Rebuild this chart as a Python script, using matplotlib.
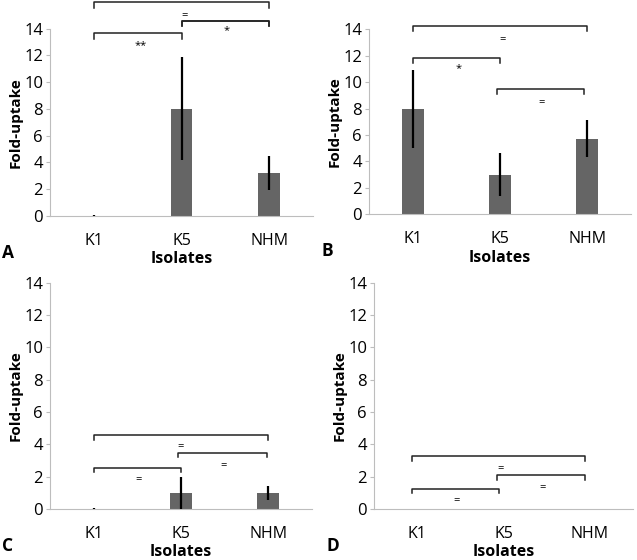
import numpy as np
import matplotlib
matplotlib.use("Agg")
import matplotlib.pyplot as plt
from matplotlib import rcParams

rcParams.update({
    "font.family": ["Open Sans", "DejaVu Sans"],
    "font.size": 10,
})

isolates = ["K1", "K5", "NHM"]
panels = ["A", "B", "C", "D"]

# fold-uptake means and error (half-length) per panel
uptake_a = [0.0, 8.0, 3.2]
err_a = [0.05, 3.85, 1.25]
uptake_b = [8.0, 3.0, 5.7]
err_b = [2.95, 1.65, 1.4]
uptake_c = [0.0, 1.0, 1.0]
err_c = [0.05, 1.0, 0.42]
uptake_d = [0.0, 0.0, 0.0]
err_d = [0.0, 0.0, 0.0]

# significance labels, one per bracket
sig_a = ["", "=", "*", "**"]
sig_b = ["=", "*", "="]
sig_c = ["=", "=", "="]
sig_d = ["=", "=", "="]

# bracket layout: (x1, x2, y, drop, label_x, label_y)
brackets = {
    "A": [(0, 2, 16.0, 0.45, None, None),
          (1, 2, 14.6, 0.4, 1.04, 15.0),
          (1, 2, 14.6, 0.4, 1.51, 13.85),
          (0, 1, 13.65, 0.45, 0.53, 12.75)],
    "B": [(0, 2, 14.25, 0.35, 1.03, 13.25),
          (0, 1, 11.8, 0.37, 0.52, 11.0),
          (0.96, 1.96, 9.46, 0.38, 1.48, 8.45)],
    "C": [(0, 2, 4.59, 0.31, 1.0, 3.85),
          (0.97, 1.98, 3.48, 0.29, 1.49, 2.66),
          (0, 1.0, 2.53, 0.27, 0.51, 1.79)],
    "D": [(-0.06, 1.94, 3.25, 0.31, 0.97, 2.47),
          (0.93, 1.94, 2.12, 0.31, 1.45, 1.34),
          (-0.06, 0.95, 1.26, 0.27, 0.46, 0.49)],
}

data = {
    "A": (uptake_a, err_a, sig_a),
    "B": (uptake_b, err_b, sig_b),
    "C": (uptake_c, err_c, sig_c),
    "D": (uptake_d, err_d, sig_d),
}

rects = {
    "A": [50 / 637, 1 - 216 / 560, 263 / 637, 187.3 / 560],
    "B": [369 / 637, 1 - 214.3 / 560, 262 / 637, 185 / 560],
    "C": [50 / 637, 1 - 509 / 560, 262 / 637, 226.3 / 560],
    "D": [374 / 637, 1 - 509 / 560, 259 / 637, 226.3 / 560],
}

BAR = "#656565"
SPINE = "#bdbdbd"

fig = plt.figure(figsize=(6.37, 5.6), dpi=100)

for p in panels:
    vals, errs, sig = data[p]
    ax = fig.add_axes(rects[p])
    x = np.arange(len(isolates))
    ax.bar(x, vals, width=0.25, color=BAR, zorder=2)
    ax.errorbar(x, vals, yerr=errs, fmt="none", ecolor="black",
                elinewidth=1.6, capsize=0, zorder=3)
    ax.set_xlim(-0.5, 2.5)
    ax.set_ylim(0, 14)
    ax.set_yticks(range(0, 15, 2))
    ax.set_xticks(x)
    ax.set_xticklabels(isolates, fontsize=11.5)
    ax.tick_params(axis="x", length=0, pad=12)
    ax.tick_params(axis="y", length=3, color=SPINE, labelsize=12, pad=2)
    for s in ["top", "right"]:
        ax.spines[s].set_visible(False)
    for s in ["left", "bottom"]:
        ax.spines[s].set_color(SPINE)
    ax.set_ylabel("Fold-uptake", fontweight="bold", fontsize=11, labelpad=1)
    ax.set_xlabel("Isolates", fontweight="bold", fontsize=11.5, labelpad=2)

    for (x1, x2, y, drop, lx, ly), lab in zip(brackets[p], sig):
        ax.plot([x1, x1, x2, x2], [y - drop, y, y, y - drop], color="#222222",
                lw=1.1, clip_on=False, zorder=4)
        if lab:
            ax.text(lx, ly, lab, ha="center", va="center", fontsize=8,
                    clip_on=False)

    bx = rects[p][0] - 48 / 637
    by = rects[p][1] - 37 / 560
    fig.text(bx, by, p, fontweight="bold", fontsize=12.5, ha="left", va="center")

fig.savefig("out.png", dpi=100)
